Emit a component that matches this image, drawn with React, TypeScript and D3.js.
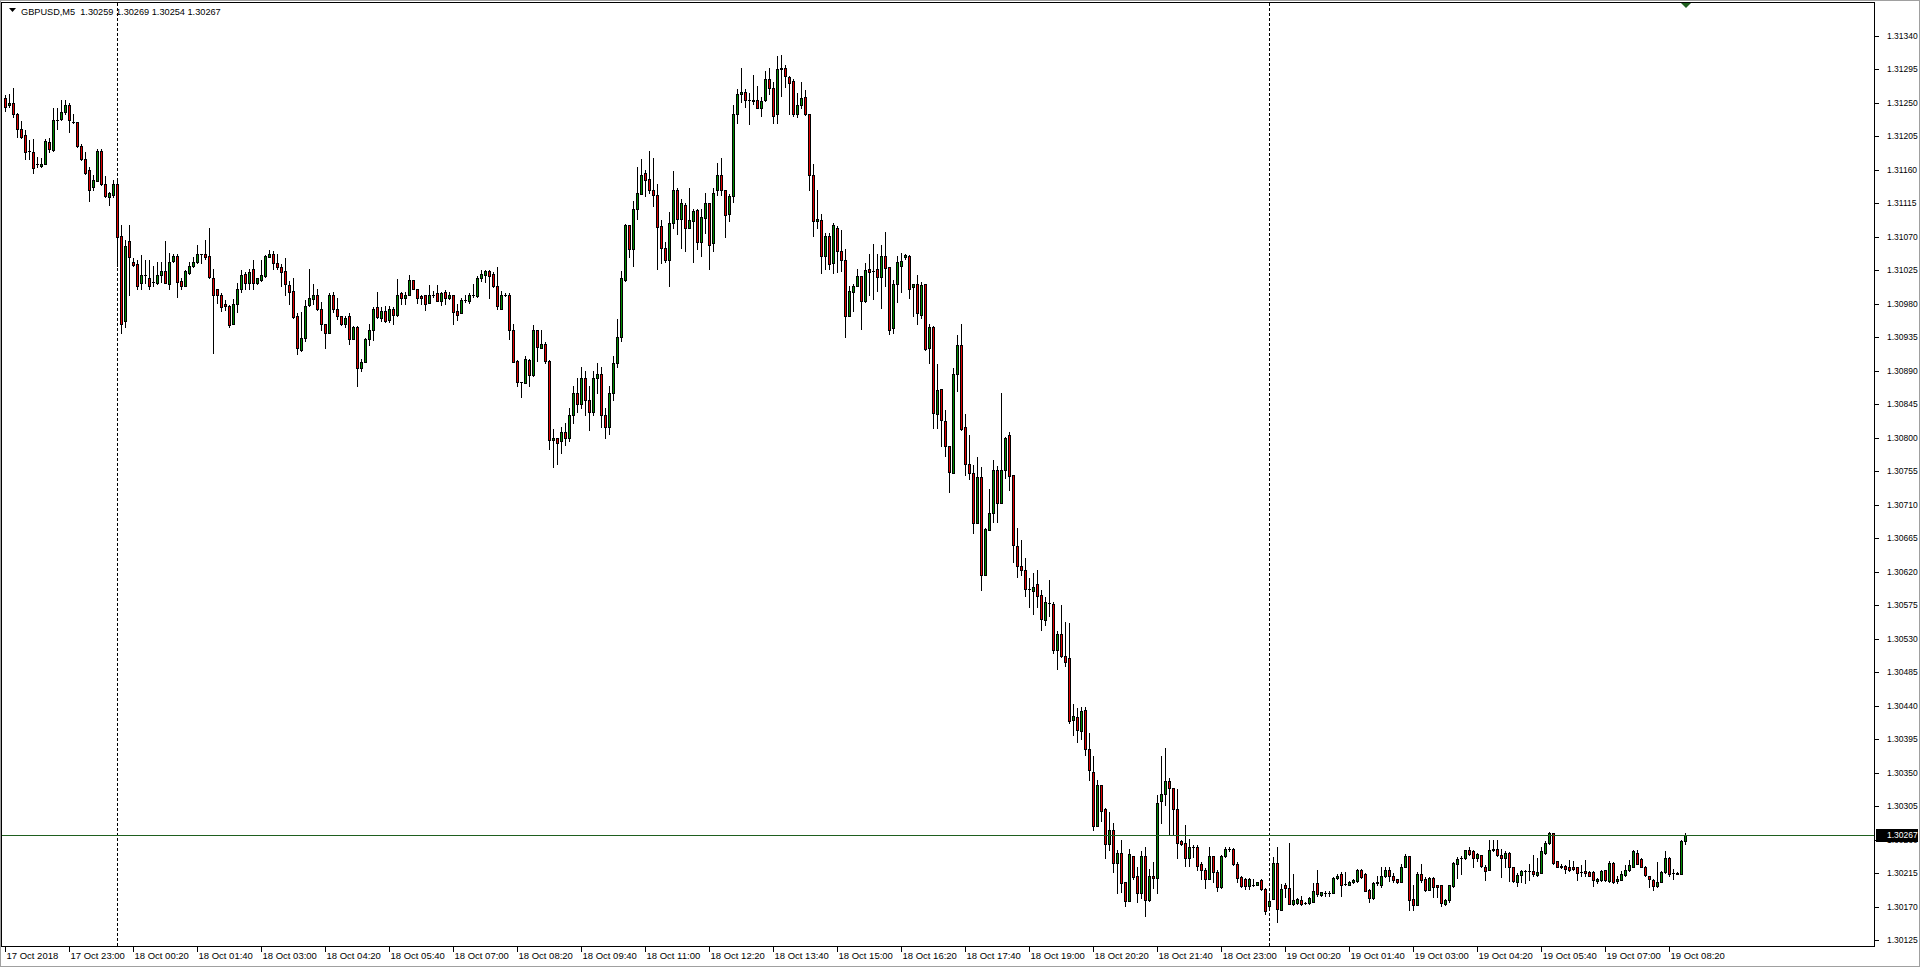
import React, { useEffect, useRef } from 'react';
import * as d3 from 'd3';

const WIDTH = 1920;
const HEIGHT = 967;

// prices kept in points above 1.30000 (1256 -> 1.31256)
const BASE_PRICE = 1.3;
const POINT = 0.00001;

const symbolTitle = 'GBPUSD,M5';
const lastQuote = ['1.30259', '1.30269', '1.30254', '1.30267'];
const bidPrice = 1.30267;

const openPts = [
  1256, 1247, 1250, 1235, 1215, 1207, 1185, 1183, 1167, 1165,
  1168, 1197, 1186, 1227, 1228, 1237, 1247, 1224, 1224, 1192,
  1174, 1160, 1137, 1145, 1185, 1141, 1123, 1126, 1140, 1071,
  957, 1064, 1036, 1033, 1008, 1019, 1015, 1009, 1008, 1019,
  1024, 1006, 1037, 1044, 1011, 1004, 1021, 1031, 1036, 1047,
  1047, 1044, 1015, 999, 992, 980, 977, 953, 980, 1000,
  1020, 1008, 1026, 1008, 1012, 1017, 1043, 1047, 1034, 1029,
  1024, 1005, 997, 963, 918, 934, 978, 986, 992, 973,
  953, 941, 991, 973, 963, 953, 963, 933, 949, 893,
  902, 933, 945, 975, 961, 970, 958, 973, 965, 994,
  988, 992, 1012, 999, 990, 991, 981, 992, 994, 984,
  995, 988, 991, 970, 968, 985, 984, 992, 990, 1014,
  1019, 1024, 1020, 1004, 973, 992, 992, 944, 903, 875,
  874, 904, 884, 945, 921, 926, 903, 797, 799, 795,
  808, 800, 830, 860, 845, 880, 850, 835, 880, 885,
  830, 815, 860, 900, 935, 1012, 1085, 1054, 1107, 1127,
  1156, 1147, 1133, 1126, 1084, 1055, 1038, 1088, 1133, 1094,
  1113, 1082, 1091, 1106, 1063, 1095, 1115, 1061, 1132, 1153,
  1133, 1100, 1124, 1235, 1261, 1264, 1253, 1252, 1254, 1243,
  1253, 1281, 1269, 1234, 1295, 1297, 1284, 1279, 1235, 1247,
  1257, 1235, 1153, 1091, 1092, 1044, 1071, 1034, 1082, 1051,
  1039, 964, 996, 1004, 1017, 984, 1026, 1024, 1026, 1016,
  1044, 1029, 947, 1006, 1031, 1042, 1044, 1002, 1006, 965,
  1006, 920, 949, 832, 866, 822, 789, 753, 886, 924,
  814, 765, 753, 685, 747, 616, 676, 699, 756, 712,
  756, 804, 750, 655, 628, 622, 597, 594, 604, 589,
  555, 578, 577, 515, 537, 507, 504, 421, 425, 406,
  434, 382, 351, 279, 333, 302, 254, 273, 229, 243,
  203, 178, 238, 211, 188, 238, 179, 212, 209, 312,
  321, 339, 330, 302, 258, 256, 236, 250, 251, 227,
  220, 208, 238, 217, 197, 238, 248, 248, 227, 210,
  208, 198, 200, 200, 206, 194, 171, 180, 229, 166,
  199, 196, 174, 175, 179, 175, 175, 176, 202, 186,
  189, 189, 188, 209, 214, 201, 199, 203, 205, 220,
  214, 193, 182, 202, 200, 211, 219, 212, 207, 203,
  224, 238, 181, 172, 214, 207, 193, 209, 199, 199,
  174, 179, 198, 228, 235, 235, 246, 245, 236, 239,
  224, 220, 246, 248, 240, 235, 243, 224, 204, 213,
  218, 218, 218, 213, 215, 242, 256, 269, 231, 225,
  225, 224, 224, 223, 217, 218, 217, 217, 205, 206,
  219, 205, 229, 205, 206, 213, 219, 224, 243, 234,
  224, 211, 206, 198, 204, 217, 236, 215, 214, 214,
  259,
];

const highPts = [
  1260, 1261, 1270, 1236, 1225, 1213, 1200, 1201, 1177, 1176,
  1201, 1202, 1242, 1242, 1254, 1254, 1249, 1235, 1224, 1194,
  1183, 1164, 1153, 1188, 1187, 1151, 1130, 1146, 1147, 1085,
  1065, 1085, 1041, 1039, 1045, 1039, 1039, 1030, 1036, 1036,
  1064, 1048, 1046, 1046, 1014, 1025, 1036, 1043, 1059, 1047,
  1065, 1081, 1026, 1000, 994, 985, 978, 986, 1008, 1025,
  1023, 1026, 1039, 1015, 1039, 1045, 1052, 1050, 1047, 1033,
  1041, 1011, 1015, 967, 969, 985, 1026, 1006, 1000, 982,
  953, 994, 996, 987, 964, 964, 967, 950, 950, 906,
  934, 952, 975, 995, 975, 977, 977, 975, 1013, 995,
  996, 1018, 1012, 999, 992, 992, 1005, 997, 1005, 996,
  998, 995, 992, 979, 987, 991, 994, 1006, 1017, 1025,
  1025, 1025, 1023, 1029, 997, 994, 994, 952, 904, 875,
  909, 905, 951, 945, 945, 929, 904, 812, 800, 815,
  820, 840, 870, 880, 895, 890, 870, 890, 900, 895,
  840, 870, 910, 960, 1024, 1087, 1085, 1118, 1164, 1174,
  1159, 1185, 1176, 1141, 1092, 1063, 1103, 1158, 1135, 1120,
  1115, 1135, 1107, 1107, 1107, 1128, 1115, 1135, 1169, 1176,
  1133, 1127, 1247, 1268, 1297, 1268, 1263, 1287, 1272, 1258,
  1293, 1297, 1277, 1313, 1314, 1300, 1286, 1281, 1263, 1277,
  1267, 1235, 1168, 1132, 1101, 1075, 1075, 1088, 1084, 1079,
  1054, 1003, 1007, 1026, 1017, 1035, 1047, 1060, 1046, 1059,
  1076, 1029, 1012, 1044, 1048, 1047, 1045, 1006, 1018, 1009,
  1006, 952, 950, 899, 866, 837, 789, 893, 938, 953,
  832, 803, 763, 774, 761, 679, 731, 770, 762, 860,
  801, 808, 750, 679, 662, 639, 611, 618, 622, 595,
  586, 609, 580, 540, 575, 552, 551, 442, 437, 438,
  439, 403, 373, 340, 333, 303, 298, 282, 247, 260,
  203, 248, 238, 224, 245, 250, 221, 230, 320, 372,
  383, 343, 330, 328, 260, 280, 261, 253, 253, 230,
  222, 250, 238, 219, 239, 250, 251, 249, 230, 211,
  209, 209, 208, 204, 208, 196, 185, 237, 250, 201,
  202, 256, 214, 182, 184, 176, 183, 202, 220, 190,
  191, 192, 210, 214, 217, 217, 205, 208, 221, 221,
  215, 194, 203, 212, 223, 223, 223, 215, 208, 228,
  241, 238, 199, 217, 228, 210, 210, 210, 200, 200,
  180, 199, 230, 237, 238, 247, 250, 246, 242, 239,
  226, 260, 260, 260, 248, 245, 244, 224, 215, 219,
  219, 227, 239, 236, 250, 259, 271, 269, 232, 227,
  226, 233, 232, 224, 226, 233, 218, 218, 209, 219,
  220, 231, 230, 212, 218, 226, 233, 246, 246, 235,
  225, 212, 207, 230, 218, 245, 237, 221, 217, 260,
  269,
];

const lowPts = [
  1238, 1244, 1231, 1204, 1203, 1174, 1174, 1156, 1164, 1164,
  1168, 1184, 1185, 1215, 1226, 1235, 1211, 1222, 1190, 1173,
  1154, 1118, 1133, 1145, 1139, 1123, 1112, 1123, 1031, 940,
  949, 991, 1031, 1000, 1000, 1008, 1000, 1004, 1006, 1009,
  1008, 1000, 1036, 989, 1000, 1003, 1020, 1029, 1034, 1035,
  1040, 1014, 914, 981, 970, 972, 948, 952, 969, 996,
  1000, 1000, 1000, 1007, 1011, 1016, 1042, 1026, 1026, 1003,
  991, 980, 961, 912, 917, 930, 977, 979, 971, 944,
  921, 941, 969, 960, 951, 948, 926, 932, 870, 890,
  901, 924, 931, 961, 957, 955, 955, 953, 964, 979,
  980, 991, 999, 981, 980, 971, 981, 989, 983, 978,
  980, 986, 952, 958, 967, 982, 981, 989, 989, 1011,
  1009, 988, 1002, 973, 973, 990, 933, 902, 869, 855,
  873, 870, 883, 903, 920, 900, 785, 761, 765, 780,
  790, 795, 820, 835, 840, 830, 810, 830, 860, 815,
  800, 805, 850, 895, 930, 1011, 1043, 1031, 1094, 1127,
  1125, 1128, 1111, 1027, 1035, 1036, 1003, 1081, 1073, 1055,
  1051, 1082, 1036, 1054, 1044, 1075, 1026, 1051, 1126, 1126,
  1070, 1091, 1117, 1222, 1251, 1244, 1221, 1248, 1242, 1232,
  1252, 1261, 1222, 1222, 1259, 1271, 1235, 1232, 1231, 1242,
  1233, 1132, 1071, 1082, 1021, 1027, 1027, 1021, 1023, 1024,
  935, 963, 970, 1003, 946, 982, 991, 986, 997, 974,
  1004, 939, 941, 982, 995, 1040, 988, 964, 953, 961,
  918, 900, 813, 813, 789, 776, 727, 753, 863, 810,
  750, 744, 672, 685, 595, 615, 676, 687, 687, 712,
  746, 730, 633, 613, 615, 588, 572, 563, 572, 542,
  548, 560, 511, 490, 506, 494, 417, 401, 392, 395,
  374, 341, 273, 279, 285, 236, 247, 217, 188, 190,
  171, 178, 208, 176, 182, 158, 178, 195, 188, 282,
  307, 267, 267, 236, 253, 225, 225, 237, 219, 208,
  195, 207, 204, 191, 196, 237, 245, 226, 204, 197,
  194, 194, 198, 199, 193, 161, 170, 180, 150, 166,
  183, 174, 173, 174, 173, 174, 174, 176, 184, 185,
  185, 185, 188, 208, 184, 200, 199, 202, 203, 209,
  191, 176, 181, 199, 197, 210, 205, 203, 202, 203,
  223, 166, 166, 172, 203, 191, 193, 183, 183, 171,
  173, 177, 197, 209, 214, 234, 239, 224, 231, 224,
  206, 219, 245, 238, 210, 224, 205, 203, 198, 203,
  202, 206, 212, 212, 215, 241, 255, 228, 223, 222,
  215, 218, 220, 206, 211, 211, 211, 198, 202, 205,
  205, 204, 202, 202, 206, 212, 218, 224, 227, 223,
  212, 197, 193, 197, 203, 215, 212, 208, 214, 214,
  254,
];

const closePts = [
  1244, 1250, 1234, 1215, 1204, 1183, 1185, 1162, 1167, 1168,
  1198, 1187, 1227, 1227, 1237, 1247, 1226, 1224, 1192, 1174,
  1156, 1133, 1146, 1185, 1141, 1124, 1128, 1141, 1070, 953,
  1057, 1043, 1032, 1004, 1018, 1019, 1003, 1009, 1018, 1024,
  1008, 1036, 1044, 1009, 1003, 1024, 1031, 1036, 1047, 1047,
  1042, 1016, 992, 991, 976, 977, 951, 980, 999, 1018,
  1008, 1022, 1008, 1014, 1018, 1044, 1047, 1034, 1029, 1022,
  1006, 996, 962, 920, 934, 977, 988, 992, 973, 953,
  941, 991, 973, 963, 953, 961, 932, 948, 893, 902,
  933, 945, 973, 962, 970, 957, 973, 965, 992, 988,
  992, 1012, 1000, 988, 988, 980, 992, 992, 984, 994,
  988, 991, 969, 965, 985, 985, 992, 992, 1014, 1020,
  1024, 1017, 1003, 977, 992, 992, 945, 902, 875, 875,
  905, 884, 945, 922, 926, 903, 797, 800, 793, 808,
  800, 830, 860, 845, 880, 850, 835, 880, 885, 830,
  815, 860, 900, 935, 1014, 1085, 1054, 1107, 1128, 1153,
  1146, 1133, 1126, 1083, 1055, 1038, 1088, 1132, 1094, 1115,
  1082, 1092, 1104, 1063, 1096, 1115, 1059, 1129, 1153, 1132,
  1099, 1125, 1235, 1261, 1264, 1254, 1253, 1254, 1243, 1252,
  1281, 1269, 1232, 1295, 1297, 1286, 1276, 1235, 1247, 1256,
  1234, 1153, 1091, 1094, 1044, 1071, 1033, 1085, 1051, 1038,
  964, 997, 1004, 1017, 984, 1025, 1023, 1024, 1016, 1044,
  1028, 945, 1007, 1036, 1037, 1045, 1000, 1006, 968, 1005,
  919, 949, 833, 864, 824, 789, 754, 886, 924, 811,
  765, 753, 685, 747, 616, 678, 699, 756, 712, 756,
  800, 749, 656, 628, 623, 597, 597, 599, 588, 557,
  579, 578, 515, 537, 507, 499, 420, 426, 408, 433,
  382, 354, 279, 333, 299, 255, 273, 229, 243, 202,
  178, 241, 210, 188, 238, 179, 212, 209, 310, 322,
  339, 330, 302, 256, 255, 236, 250, 251, 225, 220,
  208, 238, 217, 197, 238, 248, 248, 227, 209, 198,
  198, 208, 200, 204, 194, 165, 178, 229, 167, 194,
  195, 174, 179, 180, 174, 175, 182, 191, 187, 190,
  189, 189, 209, 211, 200, 201, 203, 206, 220, 210,
  192, 182, 202, 204, 211, 220, 211, 206, 203, 224,
  238, 179, 172, 214, 206, 193, 209, 197, 197, 175,
  179, 199, 229, 234, 235, 246, 241, 236, 241, 225,
  218, 246, 248, 239, 236, 243, 224, 205, 213, 218,
  218, 218, 214, 217, 245, 256, 269, 229, 224, 223,
  221, 219, 221, 215, 217, 215, 212, 206, 208, 218,
  206, 229, 203, 207, 214, 219, 226, 245, 228, 224,
  213, 208, 198, 204, 217, 236, 214, 215, 215, 258,
  267,
];

const priceTicks = [
  '1.31340', '1.31295', '1.31250', '1.31205', '1.31160', '1.31115', '1.31070',
  '1.31025', '1.30980', '1.30935', '1.30890', '1.30845', '1.30800', '1.30755',
  '1.30710', '1.30665', '1.30620', '1.30575', '1.30530', '1.30485', '1.30440',
  '1.30395', '1.30350', '1.30305', '1.30260', '1.30215', '1.30170', '1.30125',
];

// one label every 16 bars, the first one on bar 0
const timeLabels = [
  '17 Oct 2018', '17 Oct 23:00', '18 Oct 00:20', '18 Oct 01:40', '18 Oct 03:00',
  '18 Oct 04:20', '18 Oct 05:40', '18 Oct 07:00', '18 Oct 08:20', '18 Oct 09:40',
  '18 Oct 11:00', '18 Oct 12:20', '18 Oct 13:40', '18 Oct 15:00', '18 Oct 16:20',
  '18 Oct 17:40', '18 Oct 19:00', '18 Oct 20:20', '18 Oct 21:40', '18 Oct 23:00',
  '19 Oct 00:20', '19 Oct 01:40', '19 Oct 03:00', '19 Oct 04:20', '19 Oct 05:40',
  '19 Oct 07:00', '19 Oct 08:20',
];

// bars that open a new day (18 Oct 00:00, 19 Oct 00:00)
const daySeparators = [28, 316];

const BULL = '#008a00';
const BEAR = '#e00000';
const BID_LINE = '#1f5f1f';
const FONT = '"Liberation Sans", Arial, sans-serif';

const App = () => {
  const ref = useRef(null);

  useEffect(() => {
    const svg = d3.select(ref.current);
    svg.selectAll('*').remove();

    const plot = { left: 2, right: 1875, top: 3, bottom: 947 };

    const x = d3.scaleLinear().domain([0, openPts.length - 1]).range([5, 1685]);
    const y = d3.scaleLinear().domain([1.30125, 1.3134]).range([940.4, 35.5]);
    const py = (pts) => Math.round(y(BASE_PRICE + pts * POINT));
    const px = (i) => Math.round(x(i));

    svg.append('rect').attr('width', WIDTH).attr('height', HEIGHT).attr('fill', '#fff');

    // window edge
    svg.append('rect')
      .attr('x', 0.5).attr('y', 0.5)
      .attr('width', WIDTH - 1).attr('height', HEIGHT - 1)
      .attr('fill', 'none').attr('stroke', '#a0a0a0');

    // day separators
    svg.append('g')
      .selectAll('line')
      .data(daySeparators)
      .join('line')
      .attr('x1', d => px(d) + 0.5).attr('x2', d => px(d) + 0.5)
      .attr('y1', plot.top).attr('y2', plot.bottom)
      .attr('stroke', '#000')
      .attr('stroke-dasharray', '3,2')
      .attr('shape-rendering', 'crispEdges');

    const bars = openPts.map((o, i) => ({ i, o, h: highPts[i], l: lowPts[i], c: closePts[i] }));
    const g = svg.append('g').attr('shape-rendering', 'crispEdges');

    g.selectAll('rect.wick')
      .data(bars)
      .join('rect')
      .attr('class', 'wick')
      .attr('x', d => px(d.i))
      .attr('y', d => py(d.h))
      .attr('width', 1)
      .attr('height', d => py(d.l) - py(d.h) + 1)
      .attr('fill', '#000');

    g.selectAll('rect.body')
      .data(bars)
      .join('rect')
      .attr('class', 'body')
      .attr('x', d => px(d.i) - 1)
      .attr('y', d => py(Math.max(d.o, d.c)))
      .attr('width', 3)
      .attr('height', d => py(Math.min(d.o, d.c)) - py(Math.max(d.o, d.c)) + 1)
      .attr('fill', '#000');

    g.selectAll('rect.fill')
      .data(bars.filter(d => py(Math.min(d.o, d.c)) - py(Math.max(d.o, d.c)) > 1))
      .join('rect')
      .attr('class', 'fill')
      .attr('x', d => px(d.i))
      .attr('y', d => py(Math.max(d.o, d.c)) + 1)
      .attr('width', 1)
      .attr('height', d => py(Math.min(d.o, d.c)) - py(Math.max(d.o, d.c)) - 1)
      .attr('fill', d => (d.c >= d.o ? BULL : BEAR));

    // bid line
    const yb = Math.round(y(bidPrice)) + 0.5;
    svg.append('line')
      .attr('x1', plot.left).attr('x2', plot.right)
      .attr('y1', yb).attr('y2', yb)
      .attr('stroke', BID_LINE)
      .attr('shape-rendering', 'crispEdges');

    // plot frame
    svg.append('rect')
      .attr('x', plot.left - 0.5).attr('y', plot.top - 0.5)
      .attr('width', plot.right - plot.left).attr('height', plot.bottom - plot.top)
      .attr('fill', 'none').attr('stroke', '#000');

    // price axis
    const axisY = svg.append('g').attr('font-family', FONT).attr('font-size', 8.5);
    priceTicks.forEach(t => {
      const ty = Math.round(y(+t)) + 0.5;
      axisY.append('line')
        .attr('x1', plot.right).attr('x2', plot.right + 4)
        .attr('y1', ty).attr('y2', ty)
        .attr('stroke', '#000');
      axisY.append('text')
        .attr('x', plot.right + 12).attr('y', ty)
        .attr('dy', '0.35em')
        .attr('fill', '#000')
        .text(t);
    });

    // current price tag
    axisY.append('rect')
      .attr('x', plot.right + 1).attr('y', yb - 6.5)
      .attr('width', 42).attr('height', 13)
      .attr('fill', '#000');
    axisY.append('text')
      .attr('x', plot.right + 12).attr('y', yb)
      .attr('dy', '0.35em')
      .attr('fill', '#fff')
      .text(d3.format('.5f')(bidPrice));

    // time axis
    const axisX = svg.append('g').attr('font-family', FONT).attr('font-size', 9.5);
    timeLabels.forEach((label, k) => {
      const tx = px(k * 16) + 0.5;
      axisX.append('line')
        .attr('x1', tx).attr('x2', tx)
        .attr('y1', plot.bottom).attr('y2', plot.bottom + 5)
        .attr('stroke', '#000');
      axisX.append('text')
        .attr('x', tx + 1).attr('y', plot.bottom + 12)
        .attr('fill', '#000')
        .text(label);
    });

    // chart shift marker above last bar
    const mx = px(openPts.length - 1) + 1;
    svg.append('path')
      .attr('d', `M${mx - 5},${plot.top} L${mx + 5},${plot.top} L${mx},${plot.top + 5} Z`)
      .attr('fill', BID_LINE);

    // header
    svg.append('path').attr('d', 'M9,8 L16,8 L12.5,12 Z').attr('fill', '#000');
    svg.append('text')
      .attr('x', 21).attr('y', 15)
      .attr('font-family', FONT).attr('font-size', 9.2)
      .attr('fill', '#000')
      .attr('xml:space', 'preserve')
      .text(`${symbolTitle}  ${lastQuote.join(' ')}`);
  }, []);

  return (
    <svg
      ref={ref}
      width={WIDTH}
      height={HEIGHT}
      style={{ position: 'absolute', left: 0, top: 0, display: 'block' }}
    />
  );
};

export default App;
